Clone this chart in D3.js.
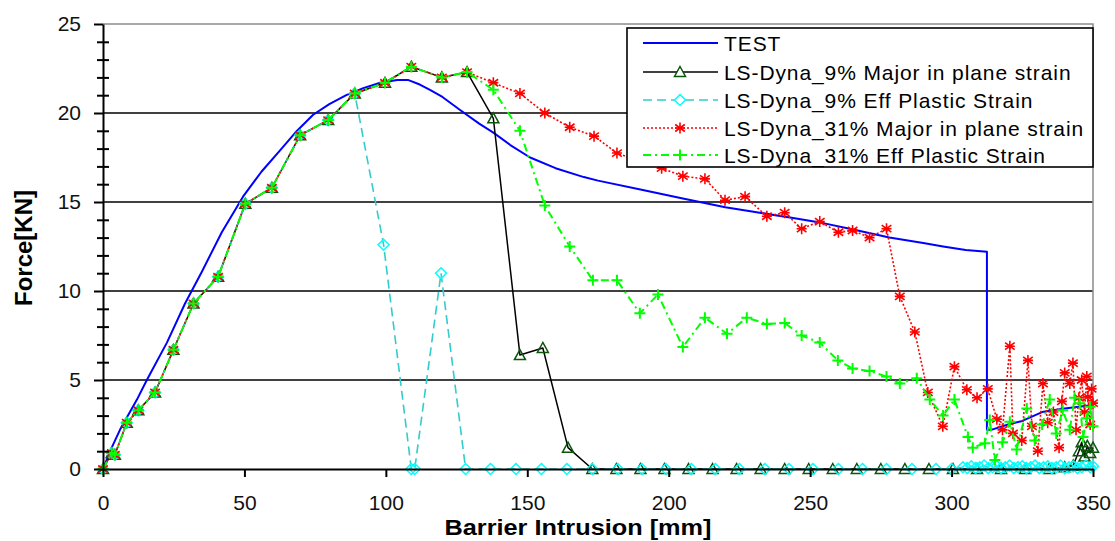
<!DOCTYPE html>
<html>
<head>
<meta charset="utf-8">
<script src="https://cdn.jsdelivr.net/npm/d3@7"></script>
<style>
  html, body { margin: 0; padding: 0; background: #fff; }
  svg { display: block; font-family: "Liberation Sans", Arial, sans-serif; }
</style>
</head>
<body>
<svg id="chart" width="1115" height="541"></svg>
<script>
// ---------- DATA ----------
const seriesNames = [
  "TEST",
  "LS-Dyna_9% Major in plane strain",
  "LS-Dyna_9% Eff Plastic Strain",
  "LS-Dyna_31% Major in plane strain",
  "LS-Dyna_31% Eff Plastic Strain"
];
const xTicks = [0, 50, 100, 150, 200, 250, 300, 350];
const yTicks = [0, 5, 10, 15, 20, 25];
const yMinorTicks = [1,2,3,4,6,7,8,9,11,12,13,14,16,17,18,19,21,22,23,24];
const xTitle = "Barrier Intrusion [mm]";
const yTitle = "Force[KN]";

const testData = [[0,0],[2.5,1.0],[6,2.2],[12,3.9],[15.5,5],[22.6,7.1],[29,9.3],[35,11.1],[42,13.3],
  [49.5,15.3],[56,16.7],[62.6,17.9],[68,18.9],[74.3,19.9],[80,20.5],[86,21],[92,21.4],[98,21.7],
  [104,21.85],[108,21.85],[112,21.6],[115.6,21.3],[120,20.9],[126,20.2],[133,19.4],[138,18.9],
  [144,18.2],[151,17.5],[160,16.9],[170,16.4],[175,16.2],[190,15.7],[205,15.2],[220,14.7],
  [230,14.45],[244,14.1],[255,13.8],[264,13.5],[278,13.0],[290,12.7],[297,12.5],[305,12.3],
  [312.5,12.2],[312.5,2.2],[314,2.2],[320,2.5],[325,2.7],[332,3.2],[340,3.4],[350,3.6]];

const major9Data = [[0,0],[3.1,0.9],[4.2,0.8],[8.4,2.6],[12.5,3.3],[18.4,4.3],[24.9,6.7],[32,9.3],
  [40.7,10.8],[50.3,14.9],[59.7,15.8],[69.7,18.75],[79.6,19.6],[89,21.1],[99.7,21.7],[109,22.6],
  [119.8,22.0],[128.7,22.3],[138,19.7],[147.4,6.4],[155.5,6.8],[164.4,1.2],[173,0],[181.5,0],
  [190,0],[198.5,0],[207,0],[215.5,0],[224,0],[232.5,0],[241,0],[249.5,0],[258,0],[266.5,0],
  [275,0],[283.5,0],[292,0],[300.5,0],[309,0],[317.5,0],[326,0],[334.5,0],[340,0.1],[343,0.2],
  [345,1.0],[346,1.5],[347,0.7],[348,1.3],[349,0.9],[350,1.2]];

const eff9Data = [[0,0],[3.1,0.9],[4.2,0.8],[8.4,2.6],[12.5,3.3],[18.4,4.3],[24.9,6.7],[32,9.3],
  [40.7,10.8],[50.3,14.9],[59.7,15.8],[69.7,18.75],[79.6,19.6],[89,21.1],[99.2,12.6],[109,0],
  [110.2,0],[119.5,11.0],[128.2,0],[137,0],[146,0],[155,0],[164,0],[173,0],[182,0],[190.5,0],
  [199,0],[208,0],[216.5,0],[225,0],[234,0],[242.5,0],[251,0],[260,0],[268.5,0],[277,0],[286,0],
  [294.5,0],[300,0],[304,0.1],[305.5,0.05],[307,0.15],[308.5,0.05],[310,0.1],[311.5,0.2],
  [313,0.05],[314.5,0.1],[316,0.15],[317.5,0.05],[319,0.1],[320.5,0.2],[322,0.05],[323.5,0.1],
  [325,0.15],[326.5,0.05],[328,0.1],[329.5,0.2],[331,0.05],[332.5,0.1],[334,0.15],[335.5,0.05],
  [337,0.1],[338.5,0.2],[340,0.05],[341.5,0.1],[343,0.15],[344.5,0.05],[346,0.1],[347.5,0.2],
  [349,0.1],[350,0.15]];

const major31Data = [[0,0],[3.1,0.9],[4.2,0.8],[8.4,2.6],[12.5,3.3],[18.4,4.3],[24.9,6.7],[32,9.3],
  [40.7,10.8],[50.3,14.9],[59.7,15.8],[69.7,18.75],[79.6,19.6],[89,21.1],[99.7,21.7],[109,22.6],
  [119.8,22.0],[128.7,22.3],[138,21.7],[147.4,21.1],[156.2,20.0],[165,19.2],[173.6,18.7],
  [181.7,17.75],[189.5,17.3],[197.5,16.9],[205,16.45],[212.8,16.3],[219.9,15.1],[227,15.3],
  [234.7,14.2],[241,14.4],[247,13.5],[253.4,13.9],[260,13.3],[265,13.4],[271,13.0],[277,13.5],
  [281.7,9.7],[287,7.7],[291.6,4.3],[296.9,2.4],[301,5.75],[305.4,4.45],[309,4.0],[312.8,4.5],
  [316,2.8],[318,2.2],[320.6,6.9],[321.7,2.0],[324.8,1.6],[327,6.1],[328.4,2.4],[330.5,1.0],
  [332.3,4.8],[334,2.6],[336,3.2],[338,1.2],[339,3.8],[340,5.4],[341.8,4.8],[342.9,5.95],
  [344,2.2],[345,4.0],[346,5.0],[347,3.2],[347.8,5.2],[348.2,4.05],[349,2.5],[349.5,4.5],[350,3.7]];

const eff31Data = [[0,0],[3.1,0.9],[4.2,0.8],[8.4,2.6],[12.5,3.3],[18.4,4.3],[24.9,6.7],[32,9.3],
  [40.7,10.8],[50.3,14.9],[59.7,15.8],[69.7,18.75],[79.6,19.6],[89,21.1],[99.7,21.7],[109,22.6],
  [119.8,22.0],[128.7,22.3],[138,21.3],[147.4,19.0],[156.2,14.8],[165,12.5],[173.2,10.6],
  [181.7,10.6],[189.8,8.75],[196.2,9.8],[205,6.85],[212.8,8.5],[220.6,7.6],[227.6,8.5],
  [234.7,8.15],[241,8.2],[247,7.5],[253.4,7.1],[259.8,6.1],[265,5.65],[271,5.5],[277,5.2],
  [281.7,4.8],[287.7,5.1],[292.3,3.9],[297,3.0],[301,3.9],[305.8,1.8],[307.5,1.2],[311.8,1.45],
  [313.5,2.75],[315.3,0.5],[318,1.5],[320.6,2.65],[323,1.1],[326.6,3.4],[329.4,1.6],[332,2.5],
  [334.7,3.9],[337,2.0],[339.3,3.3],[341.8,2.2],[343.5,4.0],[345.3,3.7],[346.5,1.8],[347.8,2.85],
  [349,3.5],[350,2.4]];

// ---------- CHART ----------
const svg = d3.select("#chart");
const pLeft = 103, pRight = 1093, pTop = 24, pBottom = 469;
const x = d3.scaleLinear().domain([0, 350]).range([pLeft, pRight]);
const y = d3.scaleLinear().domain([0, 25]).range([pBottom, pTop]);

// gridlines
svg.append("g").selectAll("line").data(yTicks.filter(d => d > 0 && d < 25)).join("line")
  .attr("x1", pLeft).attr("x2", pRight).attr("y1", d => y(d)).attr("y2", d => y(d))
  .attr("stroke", "#000").attr("stroke-width", 1.6);
// plot border top/right (grey)
svg.append("path")
  .attr("d", `M${pLeft},${y(25)}H${x(350)}V${pBottom}`)
  .attr("fill", "none").attr("stroke", "#8c8c8c").attr("stroke-width", 1.5);

// markers
const markerPaths = {
  tri: "M0,-5.5L5.5,4.5H-5.5Z",
  diamond: "M0,-5.5L5.5,0L0,5.5L-5.5,0Z",
  star: "M0,-5.5V5.5M-4.8,-3.5L4.8,3.5M-4.8,3.5L4.8,-3.5M-5,0H5",
  plus: "M-5.5,0H5.5M0,-5.5V5.5"
};

const series = [
  { name: seriesNames[0], data: testData, color: "#0000ff", width: 2, dash: null, marker: null },
  { name: seriesNames[1], data: major9Data, color: "#000000", width: 1.5, dash: null,
    marker: "tri", mColor: "#0b560b", mWidth: 1.5 },
  { name: seriesNames[2], data: eff9Data, color: "#33cccc", width: 1.6, dash: "9,5",
    marker: "diamond", mColor: "#00ffff", mWidth: 1.5 },
  { name: seriesNames[3], data: major31Data, color: "#ff0000", width: 1.6, dash: "2,2",
    marker: "star", mColor: "#ff0000", mWidth: 1.6 },
  { name: seriesNames[4], data: eff31Data, color: "#00ff00", width: 2, dash: "8,4,2,4",
    marker: "plus", mColor: "#00ff00", mWidth: 2 }
];

const line = d3.line().x(d => x(d[0])).y(d => y(d[1]));

series.forEach(s => {
  const g = svg.append("g");
  g.append("path").datum(s.data).attr("d", line)
    .attr("fill", "none").attr("stroke", s.color).attr("stroke-width", s.width)
    .attr("stroke-dasharray", s.dash).attr("stroke-linejoin", "round");
  if (s.marker) {
    g.selectAll("path.m").data(s.data).join("path").attr("class", "m")
      .attr("d", markerPaths[s.marker])
      .attr("transform", d => `translate(${x(d[0])},${y(d[1])})`)
      .attr("fill", "none").attr("stroke", s.mColor).attr("stroke-width", s.mWidth);
  }
});

// axes
const yAxis = svg.append("g").attr("transform", `translate(${pLeft},0)`)
  .call(d3.axisLeft(y).tickValues(yTicks).tickSize(9).tickPadding(13).tickSizeOuter(0));
const yMinor = svg.append("g").attr("transform", `translate(${pLeft - 6},0)`)
  .call(d3.axisRight(y).tickValues(yMinorTicks).tickSize(12).tickFormat(""));
yMinor.select(".domain").remove();
const xAxis = svg.append("g").attr("transform", `translate(0,${pBottom})`)
  .call(d3.axisBottom(x).tickValues(xTicks).tickSize(8).tickPadding(18).tickSizeOuter(0));

[yAxis, yMinor, xAxis].forEach(a => {
  a.selectAll("line").attr("stroke", "#000").attr("stroke-width", 2);
  a.selectAll(".domain").attr("stroke", "#000").attr("stroke-width", 2);
  a.selectAll("text").attr("font-size", 21).attr("fill", "#111")
    .attr("font-family", "'Liberation Sans', Arial, sans-serif");
});

// axis titles
svg.append("text").attr("x", 578).attr("y", 535).attr("text-anchor", "middle")
  .attr("font-size", 22).attr("font-weight", "bold").attr("fill", "#000")
  .attr("textLength", 267).attr("lengthAdjust", "spacingAndGlyphs")
  .text(xTitle);
svg.append("text").attr("transform", "translate(32,248) rotate(-90)").attr("text-anchor", "middle")
  .attr("font-size", 24).attr("font-weight", "bold").attr("fill", "#000")
  .text(yTitle);

// legend
const lg = svg.append("g");
lg.append("rect").attr("x", 627).attr("y", 28).attr("width", 466).attr("height", 139)
  .attr("fill", "#fff").attr("stroke", "#000").attr("stroke-width", 1.6);
const rowY = [43, 72, 100, 128, 155];
series.forEach((s, i) => {
  const ry = rowY[i];
  lg.append("line").attr("x1", 643).attr("x2", 718).attr("y1", ry).attr("y2", ry)
    .attr("stroke", s.color).attr("stroke-width", s.width).attr("stroke-dasharray", s.dash);
  if (s.marker) {
    lg.append("path").attr("d", markerPaths[s.marker])
      .attr("transform", `translate(680,${ry})`)
      .attr("fill", s.marker === "star" ? "none" : "#fff")
      .attr("stroke", s.mColor).attr("stroke-width", s.mWidth);
  }
  lg.append("text").attr("x", 724).attr("y", ry + 8)
    .attr("font-size", 21).attr("letter-spacing", 0.9).attr("fill", "#000")
    .text(s.name);
});
</script>
</body>
</html>
